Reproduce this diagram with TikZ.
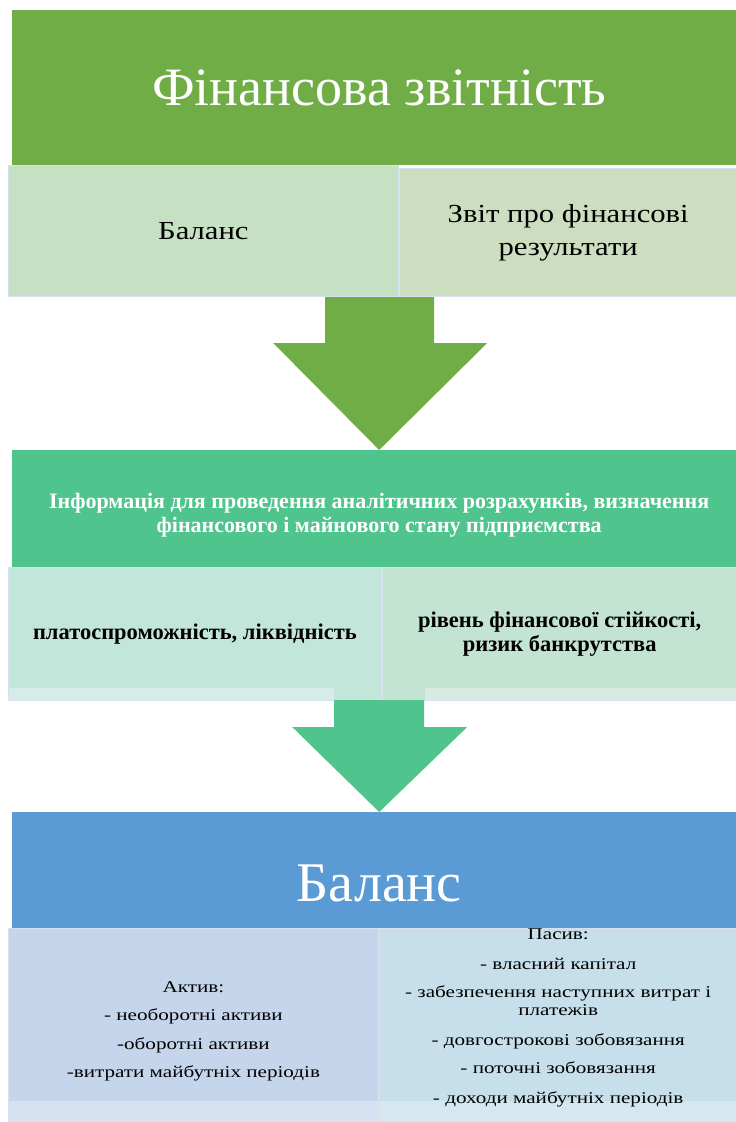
\documentclass[tikz,border=0pt]{standalone}
\usepackage{fontspec}
\setmainfont{LiberationSerif}[Extension=.ttf, UprightFont=*-Regular, BoldFont=*-Bold, ItalicFont=*-Italic, BoldItalicFont=*-BoldItalic]
\newfontfamily\midSerif{LiberationSerif}[Extension=.ttf, UprightFont=*-Regular, BoldFont=*-Bold, FakeStretch=1.18]
\newfontfamily\wideSerif{LiberationSerif}[Extension=.ttf, UprightFont=*-Regular, BoldFont=*-Bold, FakeStretch=1.28]
\usetikzlibrary{positioning,calc}

\definecolor{headGreen}{RGB}{112,173,71}
\definecolor{headTeal}{RGB}{79,197,141}
\definecolor{headBlue}{RGB}{91,155,213}
\definecolor{cellGreenA}{RGB}{197,224,195}
\definecolor{cellGreenB}{RGB}{204,221,192}
\definecolor{cellTealA}{RGB}{195,230,219}
\definecolor{cellTealB}{RGB}{196,228,211}
\definecolor{stripTealA}{RGB}{213,236,232}
\definecolor{stripTealB}{RGB}{214,235,224}
\definecolor{cellBlueA}{RGB}{197,213,236}
\definecolor{cellBlueB}{RGB}{199,223,234}
\definecolor{stripBlueA}{RGB}{214,226,242}
\definecolor{stripBlueB}{RGB}{214,232,239}
\definecolor{cellLine}{RGB}{214,224,238}

\tikzstyle{header} = [rectangle, anchor=north west, text=white, text centered, align=center, inner sep=0pt, minimum width=734pt]
\tikzstyle{cell} = [rectangle, anchor=north west, draw=cellLine, line width=0.8pt, text centered, align=center, inner sep=0pt]
\tikzstyle{mid} = [font=\midSerif\fontsize{26}{33}\selectfont]
\tikzstyle{small} = [font=\wideSerif\fontsize{16.5}{18}\selectfont]

\begin{document}
\begin{tikzpicture}[x=1pt, y=-1pt]
    \useasboundingbox[fill=white] (0,0) rectangle (736,1122);

    % financial statements
    \node[header, fill=headGreen, minimum height=155pt, font=\fontsize{54}{60}\selectfont] (report) at (12,10) {Фінансова звітність};
    \node[cell, mid, fill=cellGreenA, minimum width=390pt, minimum height=131pt] (balance) at (8,165) {Баланс};
    \node[cell, mid, fill=cellGreenB, minimum width=338pt, minimum height=128pt, yshift=-3pt] (results) at (balance.north east) {Звіт про фінансові\\результати};

    % information
    \node[header, fill=headTeal, minimum height=117pt, font=\bfseries\fontsize{22}{24}\selectfont, text height=53pt] (info) at (12,450) {Інформація для проведення аналітичних розрахунків, визначення\\фінансового і майнового стану підприємства};
    \node[cell, fill=cellTealA, minimum width=373pt, minimum height=133pt, font=\bfseries\fontsize{22.5}{24}\selectfont,
        path picture={\fill[stripTealA] (path picture bounding box.south west) rectangle ([xshift=-47pt, yshift=12pt]path picture bounding box.south east);}] (solvency) at (8,567) {платоспроможність, ліквідність};
    \node[cell, fill=cellTealB, minimum width=355pt, minimum height=133pt, font=\bfseries\fontsize{22.5}{24}\selectfont, right=0pt of solvency, anchor=west,
        path picture={\fill[stripTealB] ([xshift=43pt]path picture bounding box.south west) rectangle ([yshift=12pt]path picture bounding box.south east);}] (stability) {рівень фінансової стійкості,\\ризик банкрутства};

    % balance sheet
    \node[header, fill=headBlue, minimum height=116pt, font=\fontsize{56}{60}\selectfont, text height=62pt, text depth=0pt] (sheet) at (12,812) {Баланс};
    \node[cell, small, fill=cellBlueA, minimum width=370pt, minimum height=194pt, text height=108pt,
        path picture={\fill[stripBlueA] (path picture bounding box.south west) rectangle ([yshift=21pt]path picture bounding box.south east);}] (assets) at (8,928) {Актив:\\[10.5pt]- необоротні активи\\[10.5pt]-оборотні активи\\[10.5pt]-витрати майбутніх періодів};
    \node[cell, small, fill=cellBlueB, minimum width=358pt, minimum height=194pt, right=0pt of assets, anchor=west, text depth=18pt,
        path picture={\fill[stripBlueB] (path picture bounding box.south west) rectangle ([yshift=21pt]path picture bounding box.south east);}] (liabilities) {Пасив:\\[12pt]- власний капітал\\[10pt]- забезпечення наступних витрат і\\платежів\\[12pt]- довгострокові зобовязання\\[10pt]- поточні зобовязання\\[12pt]- доходи майбутніх періодів};

    % arrows
    \coordinate (tipA) at (info.north);
    \coordinate (tipB) at (sheet.north);
    \fill[headGreen] (tipA) -- ++(-106,-107) -- ++(52,0) -- ++(0,-46) -- ++(109,0) -- ++(0,46) -- ++(53,0) -- cycle;
    \fill[headTeal] (tipB) -- ++(-87,-85) -- ++(42,0) -- ++(0,-27) -- ++(90,0) -- ++(0,27) -- ++(43,0) -- cycle;
\end{tikzpicture}
\end{document}
